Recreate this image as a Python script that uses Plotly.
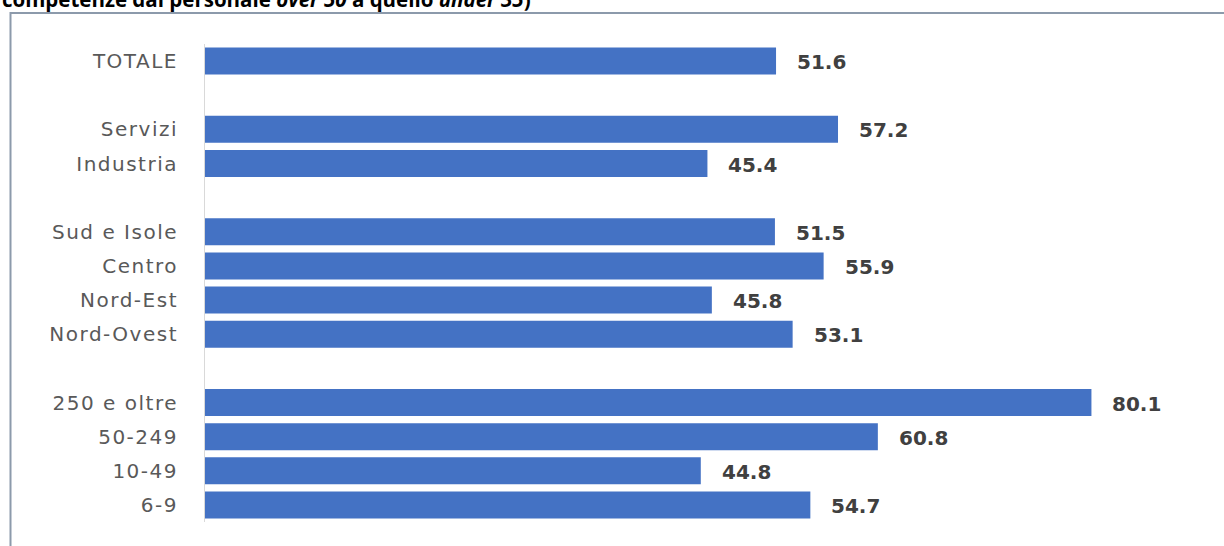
import plotly.graph_objects as go

# Share of firms by group (%), top to bottom
categories = ["TOTALE", "Servizi", "Industria", "Sud e Isole", "Centro",
              "Nord-Est", "Nord-Ovest", "250 e oltre", "50-249", "10-49", "6-9"]
values = [51.6, 57.2, 45.4, 51.5, 55.9, 45.8, 53.1, 80.1, 60.8, 44.8, 54.7]
group_sizes = [1, 2, 4, 4]

title_html = ("competenze dal personale <i>over 50</i> a quello "
              "<i>under 35</i>)")

W, H = 1224, 546
ML, MR, MT, MB = 205, 23, 44, 24
X_MAX = 90

BAR_COLOR = "#4472C4"
TICK_COLOR = "#595959"
LABEL_COLOR = "#404040"
TICK_SPACING_PX = 1.5

# Build the category order with blank spacer rows between groups
order, ys, xs = [], [], []
i = 0
for g, n in enumerate(group_sizes):
    if g > 0:
        spacer = " " * g
        order.append(spacer)
        ys.append(spacer)
        xs.append(None)
    for _ in range(n):
        order.append(categories[i])
        ys.append(categories[i])
        xs.append(values[i])
        i += 1

fig = go.Figure(go.Bar(
    x=xs, y=ys, orientation="h",
    marker=dict(color=BAR_COLOR, line=dict(width=0)),
    hoverinfo="skip",
))

# Value labels to the right of each bar
for cat, val in zip(categories, values):
    fig.add_annotation(
        x=val, y=cat, xref="x", yref="y",
        text=f"{val:.1f}", showarrow=False,
        xanchor="left", yanchor="middle", xshift=19, yshift=-1,
        font=dict(family="DejaVu Sans", size=20, color=LABEL_COLOR,
                  weight="bold"),
    )

plot_w = W - ML - MR
plot_h = H - MT - MB


def px_to_paper_x(px):
    return (px - ML) / plot_w


def px_to_paper_y(py):
    return (H - MB - py) / plot_h


# Heading text running off the top edge
fig.add_annotation(
    x=px_to_paper_x(0), y=px_to_paper_y(15), xref="paper", yref="paper",
    text=f"<b>{title_html}</b>", showarrow=False,
    xanchor="left", yanchor="bottom",
    font=dict(family="Open Sans", size=20.5, color="#000000"),
)

# Chart frame
fig.add_shape(
    type="rect", xref="paper", yref="paper",
    x0=px_to_paper_x(10.5), x1=px_to_paper_x(W + 20),
    y0=px_to_paper_y(H + 20), y1=px_to_paper_y(13),
    line=dict(color="#8C9AAB", width=2), fillcolor="rgba(0,0,0,0)",
    layer="below",
)

fig.update_layout(
    width=W, height=H,
    margin=dict(l=ML, r=MR, t=MT, b=MB),
    paper_bgcolor="white", plot_bgcolor="white",
    bargap=0.21, showlegend=False,
    xaxis=dict(range=[0, X_MAX], visible=False, fixedrange=True),
    yaxis=dict(
        type="category", categoryorder="array", categoryarray=order,
        range=[len(order) - 0.5, -0.5],
        showgrid=False, zeroline=False,
        showline=True, linecolor="#D9D9D9", linewidth=1,
        ticks="", ticklabelstandoff=22,
        tickfont=dict(family="DejaVu Sans", size=20, color=TICK_COLOR),
    ),
)

# Slightly wider tracking for the category labels
post_js = (
    "document.querySelectorAll('.ytick text').forEach(function(t){"
    f"t.style.letterSpacing='{TICK_SPACING_PX}px';}});"
)

fig.write_html("out.html", post_script=post_js)
